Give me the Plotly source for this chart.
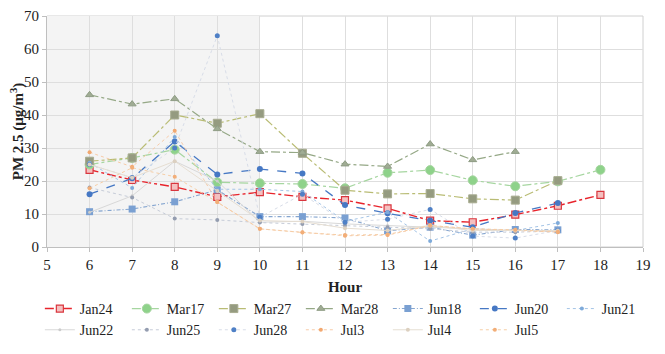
import plotly.graph_objects as go

# ---- data ----
hours_6_18 = [6, 7, 8, 9, 10, 11, 12, 13, 14, 15, 16, 17, 18]
hours_6_17 = [6, 7, 8, 9, 10, 11, 12, 13, 14, 15, 16, 17]
hours_6_16 = [6, 7, 8, 9, 10, 11, 12, 13, 14, 15, 16]

jan24 = [23.4, 20.3, 18.2, 15.2, 16.6, 15.2, 14.2, 11.7, 8.0, 7.5, 9.8, 12.5, 15.8]
mar17 = [25.0, 27.0, 29.5, 19.6, 19.3, 19.1, 17.8, 22.5, 23.3, 20.2, 18.4, 19.9, 23.4]
mar27 = [26.0, 27.0, 40.0, 37.5, 40.4, 28.4, 17.2, 16.1, 16.2, 14.6, 14.2, 20.1]
mar28 = [46.1, 43.3, 44.9, 35.8, 28.9, 28.6, 25.1, 24.4, 31.2, 26.4, 28.9]
jun18 = [10.7, 11.5, 13.7, 17.3, 9.2, 9.2, 8.8, 4.9, 6.0, 3.6, 5.3, 5.2]
jun20 = [16.0, 20.8, 32.0, 22.0, 23.6, 22.3, 12.7, 10.2, 8.0, 6.0, 10.3, 13.3]
jun21 = [25.5, 17.9, 33.3, 17.5, 17.5, 16.8, 7.8, 10.5, 1.8, 5.5, 5.0, 7.3]
jun22 = [10.5, 15.5, 26.0, 20.0, 7.5, 7.8, 7.0, 6.5, 6.0, 5.5, 5.0, 5.0]
jun25 = [18.0, 15.0, 8.6, 8.2, 7.4, 7.0, 6.5, 6.0, 5.5, 4.5, 4.5, 4.8]
jun28 = [25.0, 21.0, 30.0, 64.0, 9.0, 16.0, 7.5, 8.4, 11.4, 3.3, 2.7, 5.0]
jul3 = [28.7, 24.3, 35.2, 13.6, 5.5, 4.5, 3.4, 3.6, 6.5, 5.5, 5.0, 4.5]
jul4 = [25.0, 21.0, 26.0, 17.0, 8.0, 7.7, 5.7, 5.0, 6.5, 5.0, 5.0, 5.0]
jul5 = [17.8, 24.0, 21.3, 13.6, 5.5, 4.4, 3.6, 3.8, 6.5, 5.5, 5.2, 4.6]

x_ticks = list(range(5, 20))
y_ticks = list(range(0, 80, 10))

series = [
    ("Jan24", hours_6_18, jan24, dict(color="#e8242c", width=1.4, dash="dashdot"),
     dict(symbol="square", size=7, color="#f4c0c0", line=dict(color="#d9363e", width=1.2))),
    ("Mar17", hours_6_18, mar17, dict(color="#a6d6a0", width=1.2, dash="dashdot"),
     dict(symbol="circle", size=9, color="#8ed28a", line=dict(color="#a6d6a0", width=1))),
    ("Mar27", hours_6_17, mar27, dict(color="#b9bc74", width=1.2, dash="dashdot"),
     dict(symbol="square", size=8, color="#959b80", line=dict(color="#a8ac90", width=1))),
    ("Mar28", hours_6_16, mar28, dict(color="#95a886", width=1.2, dash="dashdot"),
     dict(symbol="triangle-up", size=7, color="#a0ac94", line=dict(color="#8e9c84", width=1))),
    ("Jun18", hours_6_17, jun18, dict(color="#86a6d0", width=1.1, dash="4px,2px,1px,2px"),
     dict(symbol="square", size=7, color="#7aa0d2", line=dict(color="#7aa0d2", width=0))),
    ("Jun20", hours_6_17, jun20, dict(color="#4678c4", width=1.3, dash="dash"),
     dict(symbol="circle", size=6, color="#4678c4")),
    ("Jun21", hours_6_17, jun21, dict(color="#a4c4e6", width=1.0, dash="dot"),
     dict(symbol="circle", size=4, color="#7eaada")),
    ("Jun22", hours_6_17, jun22, dict(color="#d8d8d8", width=1.0, dash="solid"),
     dict(symbol="circle", size=3, color="#cccccc")),
    ("Jun25", hours_6_17, jun25, dict(color="#c6ccd8", width=1.0, dash="dot"),
     dict(symbol="circle", size=4, color="#949db0")),
    ("Jun28", hours_6_17, jun28, dict(color="#d8dde8", width=1.0, dash="dot"),
     dict(symbol="circle", size=5, color="#4f80c6")),
    ("Jul3", hours_6_17, jul3, dict(color="#f7cba8", width=1.0, dash="dot"),
     dict(symbol="circle", size=4, color="#f2a870")),
    ("Jul4", hours_6_17, jul4, dict(color="#e6ded2", width=1.0, dash="solid"),
     dict(symbol="circle", size=4, color="#dcd0c0")),
    ("Jul5", hours_6_17, jul5, dict(color="#f6cea6", width=1.0, dash="dot"),
     dict(symbol="circle", size=4, color="#f2ae78")),
]

fig = go.Figure()
for name, xs, ys, line, marker in series:
    fig.add_trace(go.Scatter(x=xs, y=ys, name=name, mode="lines+markers",
                             line=line, marker=marker))

fig.add_shape(type="rect", xref="x", yref="y", x0=5, x1=10, y0=0, y1=70,
              fillcolor="#f4f4f4", line=dict(width=0), layer="below")

serif = "Liberation Serif"
fig.update_layout(
    width=657, height=347,
    margin=dict(l=39, r=22, t=8, b=108),
    paper_bgcolor="white", plot_bgcolor="white",
    font=dict(family=serif, size=14, color="#222222"),
    showlegend=True,
    legend=dict(orientation="h", x=-0.012, y=-0.199, xanchor="left", yanchor="top",
                entrywidth=42, font=dict(family=serif, size=14, color="#222222"),
                itemwidth=30, traceorder="normal"),
    xaxis=dict(range=[5, 19], tickvals=x_ticks, ticktext=[str(t) for t in x_ticks],
               automargin=False,
               showgrid=True, gridcolor="#dedede", gridwidth=1,
               showline=True, linecolor="#bfbfbf", linewidth=1,
               ticks="outside", ticklen=4, tickcolor="#bfbfbf",
               zeroline=False, mirror=False,
               title=dict(text="<b>Hour</b>", standoff=9, font=dict(family=serif, size=15)),
               tickfont=dict(family=serif, size=15)),
    yaxis=dict(range=[0, 70], tickvals=y_ticks, ticktext=[str(t) for t in y_ticks],
               automargin=False,
               showgrid=True, gridcolor="#dedede", gridwidth=1,
               showline=True, linecolor="#bfbfbf", linewidth=1,
               ticks="outside", ticklen=4, tickcolor="#bfbfbf",
               zeroline=False,
               title=dict(text="<b>PM 2.5 (μg/m<sup>3</sup>)</b>", standoff=4,
                          font=dict(family=serif, size=15)),
               tickfont=dict(family=serif, size=15)),
)
fig.add_shape(type="rect", xref="paper", yref="paper", x0=0, x1=1, y0=0, y1=1,
              line=dict(color="#d0d0d0", width=1), fillcolor="rgba(0,0,0,0)", layer="below")

fig.write_html("out.html")
